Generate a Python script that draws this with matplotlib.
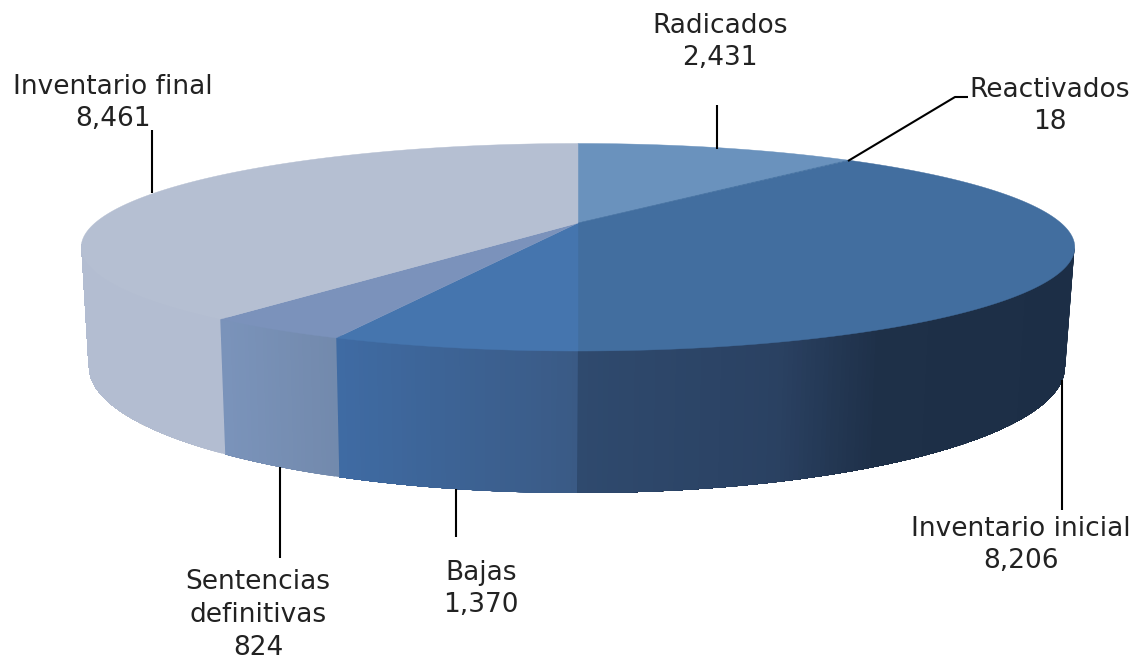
import numpy as np
import matplotlib
matplotlib.use('Agg')
import matplotlib.pyplot as plt
from matplotlib.colors import to_rgb

names = ['Radicados', 'Reactivados', 'Inventario inicial', 'Bajas',
         'Sentencias\ndefinitivas', 'Inventario final']
values = [2431, 18, 8206, 1370, 824, 8461]

# top face colour of each slice
top_colors = ['#6a92bd', '#4f7dac', '#426e9f', '#4575ae', '#7b92bb', '#b5bfd2']
# side colour ramps: (pixel x, colour)
side_ramps = [
    [(0, '#6a92bd')],
    [(0, '#4f7dac')],
    [(578, '#2f4a6e'), (780, '#2a4162'), (880, '#1e3048'), (1075, '#1c2e46')],
    [(340, '#3f6ba3'), (578, '#3a5a85')],
    [(226, '#7a93ba'), (340, '#7289ac')],
    [(0, '#b3bdd1')],
]

# label text centre (pixels) and leader line points
label_pos = [(720, 42), (1050, 106), (1021, 545), (481, 589), (258, 615), (113, 103)]
leaders = [
    [(717, 105), (717, 149)],
    [(968, 97), (955, 97), (848, 161)],
    [(1062, 380), (1062, 510)],
    [(456, 489), (456, 537)],
    [(280, 467), (280, 558)],
    [(152, 130), (152, 193)],
]

# perspective of the top face
CX, CY = 578, 223
K, A, B = 0.2337, 98.1, 483.0
# bottom rim ellipse
BX, BY, BRX, BRY, BSCALE = 577, 367, 488, 126, 0.983


def top_rim(theta):
    u, v = np.sin(theta), np.cos(theta)
    d = 1 + K * v
    return CX + B * u / d, CY - A * v / d


def bottom_rim(theta):
    x, _ = top_rim(theta)
    xb = BX + BSCALE * (x - CX)
    return xb, BY + BRY * np.sqrt(np.clip(1 - ((xb - BX) / BRX) ** 2, 0, 1))


def ramp_color(ramp, x):
    xs = [p[0] for p in ramp]
    rgb = np.array([to_rgb(p[1]) for p in ramp])
    return [np.interp(x, xs, rgb[:, i]) for i in range(3)]


fig = plt.figure(figsize=(11.36, 6.62), dpi=100)
ax = fig.add_axes([0, 0, 1, 1])
ax.set_xlim(0, 1136)
ax.set_ylim(662, 0)
ax.axis('off')

edges = np.cumsum([0] + values) / sum(values) * 2 * np.pi
right_limit = np.arccos(-K)
left_limit = 2 * np.pi - right_limit

# side of the cake, thin strips so the shading runs smoothly
# each strip runs on to the end of the slice, the next one paints over it (no seams)
for i in range(len(values)):
    start = max(edges[i], right_limit)
    end = min(edges[i + 1], left_limit)
    if end <= start:
        continue
    steps = np.linspace(start, end, int((end - start) * 120) + 2)
    for j, t0 in enumerate(steps[:-1]):
        t = np.linspace(t0, end, max(len(steps) - j, 2))
        x, y = top_rim(t)
        xb, yb = bottom_rim(t)
        c = ramp_color(side_ramps[i], (x[0] + x[1]) / 2)
        ax.fill(np.r_[x, xb[::-1]], np.r_[y - 3, yb[::-1]], color=c, lw=0, zorder=1)

# top face
for i in range(len(values)):
    t = np.linspace(edges[i], edges[i + 1], max(int((edges[i + 1] - edges[i]) * 100), 2) + 1)
    x, y = top_rim(t)
    ax.fill(np.r_[CX, x], np.r_[CY, y], color=top_colors[i], lw=0.3, zorder=2)

# leader lines
for pts in leaders:
    ax.plot([p[0] for p in pts], [p[1] for p in pts], color='black', lw=1.5, zorder=3,
            solid_capstyle='butt')

# labels
for name, val, (lx, ly) in zip(names, values, label_pos):
    ax.text(lx, ly, f'{name}\n{val:,}', ha='center', va='center', fontsize=19,
            family='DejaVu Sans', color='#222222', linespacing=1.34, zorder=4)

fig.savefig('out.png', dpi=100)
